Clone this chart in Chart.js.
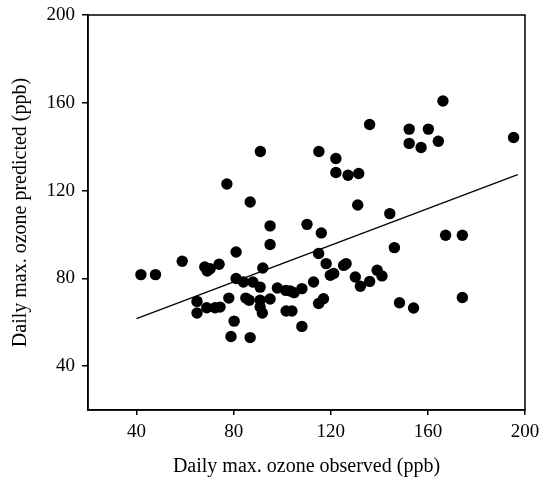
<!DOCTYPE html>
<html>
<head>
<meta charset="utf-8">
<script src="https://cdn.jsdelivr.net/npm/chart.js@4"></script>
<style>
  html, body { margin: 0; padding: 0; background: #fff; }
  #wrap { width: 549px; height: 481px; }
</style>
</head>
<body>
<div id="wrap"><canvas id="ozoneChart" width="549" height="481"></canvas></div>
<script>
// observed vs predicted daily max ozone (ppb)
const observed = [
  41.8, 47.8, 58.8, 68.1, 69.1, 70.3, 74.0, 81.0, 86.8, 81.0,
  84.0, 87.9, 64.9, 64.9, 68.9, 72.3, 74.4, 78.0, 85.0, 86.4,
  80.2, 78.9, 86.8, 131.1, 95.0, 110.2, 116.1, 95.0, 115.0, 92.0,
  118.1, 125.3, 126.3, 119.8, 121.2, 130.1, 132.2, 136.0, 139.1, 141.1,
  90.9, 98.0, 101.5, 103.3, 104.9, 108.1, 112.9, 90.9, 95.0, 90.9,
  91.8, 101.6, 104.0, 115.0, 117.0, 108.1, 144.3, 167.3, 174.2, 146.2,
  148.3, 154.1, 174.2, 91.0, 77.2, 115.1, 122.1, 122.1, 127.1, 131.5,
  166.2, 136.0, 152.3, 160.2, 152.3, 157.2, 164.3, 195.3
];
const predicted = [
  81.7, 81.7, 87.8, 85.2, 83.3, 84.4, 86.4, 92.0, 114.8, 79.9,
  78.3, 78.3, 69.5, 64.2, 66.6, 66.6, 66.9, 71.0, 71.0, 70.0,
  60.5, 53.5, 53.0, 113.4, 103.9, 104.6, 100.7, 95.4, 91.3, 84.7,
  86.7, 85.9, 86.7, 81.4, 82.2, 80.6, 76.4, 78.6, 83.7, 81.1,
  76.0, 75.6, 74.5, 74.2, 73.5, 75.3, 78.3, 70.0, 70.6, 66.9,
  64.2, 65.1, 65.1, 68.5, 70.7, 58.1, 109.5, 99.6, 99.6, 94.0,
  68.9, 66.5, 71.3, 137.8, 123.0, 137.8, 134.6, 128.2, 127.0, 127.8,
  160.8, 150.1, 148.0, 148.0, 141.5, 139.6, 142.5, 144.2
];

// fitted line end points
const fitX = [40, 197];
const fitY = [61.6, 127.3];

const xTicks = [40, 80, 120, 160, 200];
const yTicks = [40, 80, 120, 160, 200];

const FONT = 'Liberation Serif, Times New Roman, serif';

// frame around the plot area (top and right sides too)
const frameBox = {
  id: 'frameBox',
  afterDraw(chart) {
    const { ctx, chartArea: a } = chart;
    ctx.save();
    ctx.strokeStyle = '#000';
    ctx.lineWidth = 1.5;
    ctx.strokeRect(a.left, a.top, a.right - a.left, a.bottom - a.top);
    ctx.restore();
  }
};

const ctx = document.getElementById('ozoneChart').getContext('2d');

new Chart(ctx, {
  type: 'scatter',
  data: {
    datasets: [
      {
        label: 'obs',
        data: observed.map((v, i) => ({ x: v, y: predicted[i] })),
        backgroundColor: '#000',
        borderWidth: 0,
        pointRadius: 5.7
      },
      {
        type: 'line',
        label: 'fit',
        data: fitX.map((v, i) => ({ x: v, y: fitY[i] })),
        borderColor: '#000',
        borderWidth: 1.3,
        pointRadius: 0,
        fill: false
      }
    ]
  },
  options: {
    responsive: false,
    animation: false,
    layout: { padding: { top: 15, right: 24, left: 0, bottom: 0 } },
    plugins: {
      legend: { display: false },
      tooltip: { enabled: false }
    },
    scales: {
      x: {
        type: 'linear',
        min: 20,
        max: 200,
        afterBuildTicks: s => { s.ticks = xTicks.map(v => ({ value: v })); },
        afterFit: s => { s.height = 71; },
        grid: { drawOnChartArea: false, drawTicks: true, tickLength: 5, color: '#000', lineWidth: 1.5 },
        border: { display: true, color: '#000', width: 1.5 },
        ticks: { color: '#000', padding: 6, maxRotation: 0, font: { family: FONT, size: 19 } },
        title: {
          display: true,
          text: 'Daily max. ozone observed (ppb)',
          color: '#000',
          padding: { top: 10, bottom: 2 },
          font: { family: FONT, size: 20 }
        }
      },
      y: {
        type: 'linear',
        min: 20,
        max: 200,
        afterBuildTicks: s => { s.ticks = yTicks.map(v => ({ value: v })); },
        afterFit: s => { s.width = 88; s.paddingTop = 0; s.paddingBottom = 0; },
        grid: { drawOnChartArea: false, drawTicks: true, tickLength: 6, color: '#000', lineWidth: 1.5 },
        border: { display: true, color: '#000', width: 1.5 },
        ticks: { color: '#000', padding: 7, font: { family: FONT, size: 19 } },
        title: {
          display: true,
          text: 'Daily max. ozone predicted (ppb)',
          color: '#000',
          padding: { top: 9, bottom: 4 },
          font: { family: FONT, size: 20 }
        }
      }
    }
  },
  plugins: [frameBox]
});
</script>
</body>
</html>
